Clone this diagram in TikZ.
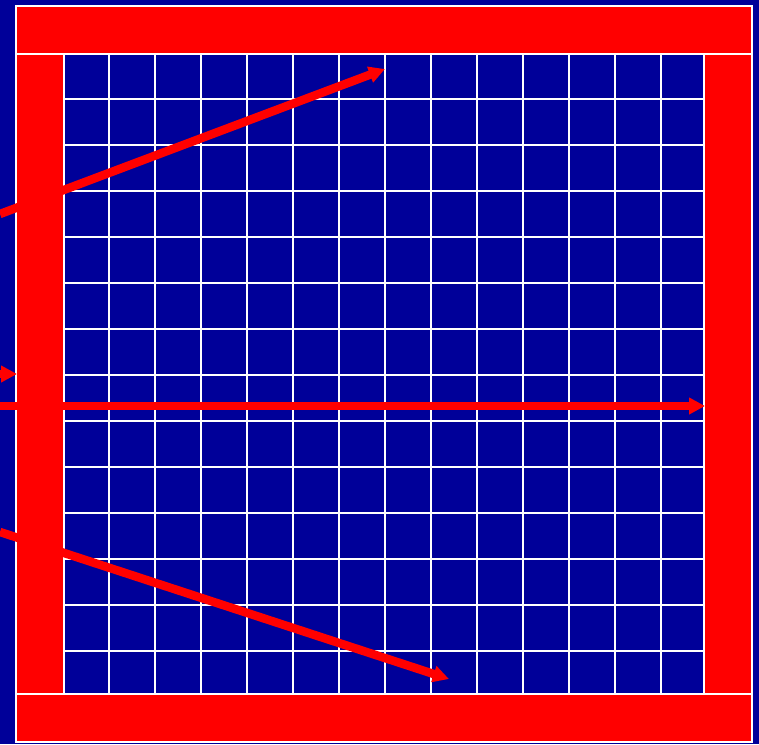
\documentclass[tikz,border=0pt]{standalone}
\usetikzlibrary{arrows.meta}
\definecolor{bgblue}{RGB}{0,0,153}
\begin{document}
\begin{tikzpicture}[x=1pt,y=-1pt,
  redbar/.style={fill=red},
  gridline/.style={draw=white,line width=2.2pt},
  frameline/.style={draw=white,line width=2.4pt},
  pointer/.style={draw=red,line width=8.5pt,-{Triangle[length=16pt,width=16pt]}}]
\fill[bgblue] (0,0) rectangle (759,744);
\useasboundingbox (0,0) rectangle (759,744);
% red bars
\fill[redbar] (16,6) rectangle (752,54);
\fill[redbar] (16,694) rectangle (752,742);
\fill[redbar] (16,54) rectangle (64,694);
\fill[redbar] (704,54) rectangle (752,694);
% grid
\foreach \i in {1,...,13} {
  \draw[gridline] ({63+46*\i},54) -- ({63+46*\i},694);
  \draw[gridline] (64,{53+46*\i}) -- (704,{53+46*\i});
}
% frame lines
\draw[frameline] (16,6) rectangle (752,742);
\draw[frameline] (16,54) -- (752,54);
\draw[frameline] (16,694) -- (752,694);
\draw[frameline] (64,54) -- (64,694);
\draw[frameline] (704,54) -- (704,694);
% arrows
\coordinate (a1s) at (0,214); \coordinate (a1e) at (385,69);
\coordinate (a2s) at (0,406); \coordinate (a2e) at (705,406);
\coordinate (a3s) at (0,532); \coordinate (a3e) at (449,679);
\coordinate (a4s) at (0,374); \coordinate (a4e) at (17,374);
\draw[pointer] (a1s) -- (a1e);
\draw[pointer] (a2s) -- (a2e);
\draw[pointer] (a3s) -- (a3e);
\draw[pointer] (a4s) -- (a4e);
\end{tikzpicture}
\end{document}
